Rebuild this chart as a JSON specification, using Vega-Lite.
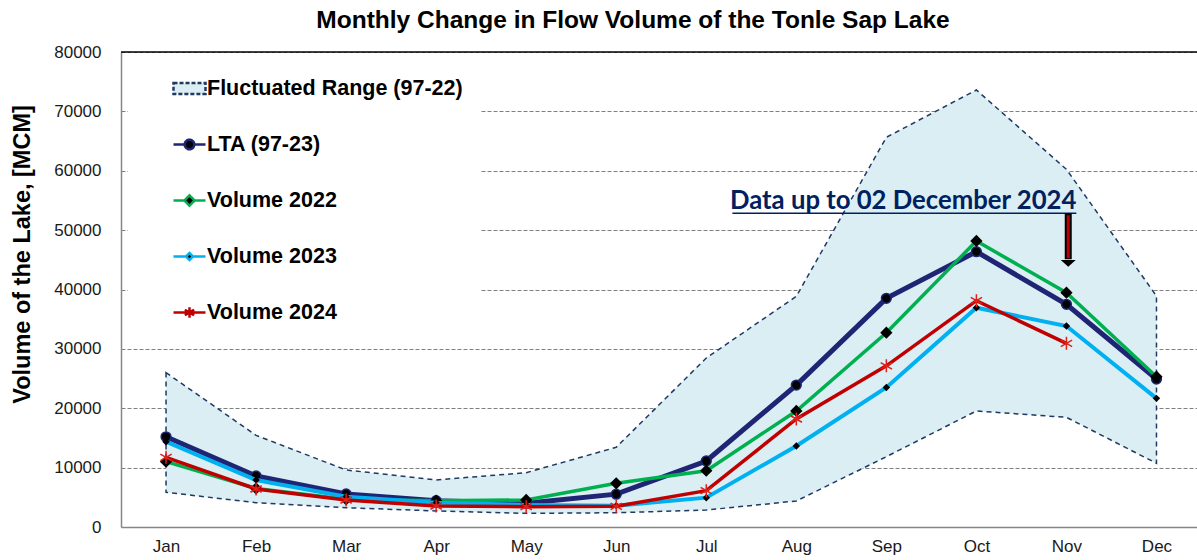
{
  "$schema": "https://vega.github.io/schema/vega-lite/v6.json",
  "autosize": "none",
  "width": 1076,
  "height": 475,
  "padding": {"left": 121, "top": 52, "right": 0, "bottom": 33},
  "background": "white",
  "title": {
    "text": "Monthly Change in Flow Volume of the Tonle Sap Lake",
    "font": "Liberation Sans",
    "fontSize": 24.5,
    "fontWeight": "bold",
    "color": "black",
    "anchor": "middle",
    "frame": "group",
    "dx": -26,
    "offset": 10
  },
  "datasets": {
    "range": [
      {"month": 1, "min": 5840, "max": 26000},
      {"month": 2, "min": 4100, "max": 15440},
      {"month": 3, "min": 3250, "max": 9600},
      {"month": 4, "min": 2700, "max": 7920},
      {"month": 5, "min": 2300, "max": 9150},
      {"month": 6, "min": 2400, "max": 13420},
      {"month": 7, "min": 2860, "max": 28460},
      {"month": 8, "min": 4380, "max": 38850},
      {"month": 9, "min": 11840, "max": 65630},
      {"month": 10, "min": 19540, "max": 73600},
      {"month": 11, "min": 18470, "max": 60240},
      {"month": 12, "min": 10730, "max": 38900}
    ],
    "series": [
      {"series": "LTA (97-23)", "month": 1, "value": 15200},
      {"series": "LTA (97-23)", "month": 2, "value": 8590},
      {"series": "LTA (97-23)", "month": 3, "value": 5560},
      {"series": "LTA (97-23)", "month": 4, "value": 4430},
      {"series": "LTA (97-23)", "month": 5, "value": 4000},
      {"series": "LTA (97-23)", "month": 6, "value": 5530},
      {"series": "LTA (97-23)", "month": 7, "value": 11120},
      {"series": "LTA (97-23)", "month": 8, "value": 23900},
      {"series": "LTA (97-23)", "month": 9, "value": 38510},
      {"series": "LTA (97-23)", "month": 10, "value": 46370},
      {"series": "LTA (97-23)", "month": 11, "value": 37500},
      {"series": "LTA (97-23)", "month": 12, "value": 24920},
      {"series": "Volume 2022", "month": 1, "value": 11000},
      {"series": "Volume 2022", "month": 2, "value": 6500},
      {"series": "Volume 2022", "month": 3, "value": 4660},
      {"series": "Volume 2022", "month": 4, "value": 4430},
      {"series": "Volume 2022", "month": 5, "value": 4550},
      {"series": "Volume 2022", "month": 6, "value": 7360},
      {"series": "Volume 2022", "month": 7, "value": 9480},
      {"series": "Volume 2022", "month": 8, "value": 19540},
      {"series": "Volume 2022", "month": 9, "value": 32720},
      {"series": "Volume 2022", "month": 10, "value": 48170},
      {"series": "Volume 2022", "month": 11, "value": 39460},
      {"series": "Volume 2022", "month": 12, "value": 25310},
      {"series": "Volume 2023", "month": 1, "value": 14370},
      {"series": "Volume 2023", "month": 2, "value": 7920},
      {"series": "Volume 2023", "month": 3, "value": 5100},
      {"series": "Volume 2023", "month": 4, "value": 4100},
      {"series": "Volume 2023", "month": 5, "value": 3700},
      {"series": "Volume 2023", "month": 6, "value": 3600},
      {"series": "Volume 2023", "month": 7, "value": 4940},
      {"series": "Volume 2023", "month": 8, "value": 13640},
      {"series": "Volume 2023", "month": 9, "value": 23500},
      {"series": "Volume 2023", "month": 10, "value": 36940},
      {"series": "Volume 2023", "month": 11, "value": 33850},
      {"series": "Volume 2023", "month": 12, "value": 21670},
      {"series": "Volume 2024", "month": 1, "value": 11740},
      {"series": "Volume 2024", "month": 2, "value": 6400},
      {"series": "Volume 2024", "month": 3, "value": 4550},
      {"series": "Volume 2024", "month": 4, "value": 3540},
      {"series": "Volume 2024", "month": 5, "value": 3420},
      {"series": "Volume 2024", "month": 6, "value": 3480},
      {"series": "Volume 2024", "month": 7, "value": 6120},
      {"series": "Volume 2024", "month": 8, "value": 18190},
      {"series": "Volume 2024", "month": 9, "value": 27150},
      {"series": "Volume 2024", "month": 10, "value": 38120},
      {"series": "Volume 2024", "month": 11, "value": 30930}
    ]
  },
  "layer": [
    {
      "data": {"name": "range"},
      "mark": {"type": "area", "fill": "#DAEEF3", "stroke": "#1F3864", "strokeWidth": 1.5, "strokeDash": [5, 4]},
      "encoding": {
        "x": {
          "field": "month", "type": "quantitative",
          "scale": {"domain": [0.5, 12.45], "nice": false, "zero": false},
          "axis": {
            "title": null,
            "values": [1, 2, 3, 4, 5, 6, 7, 8, 9, 10, 11, 12],
            "labelExpr": "['Jan','Feb','Mar','Apr','May','Jun','Jul','Aug','Sep','Oct','Nov','Dec'][datum.value - 1]",
            "grid": false,
            "ticks": false,
            "labelFont": "Liberation Sans",
            "labelFontSize": 17,
            "labelColor": "#1a1a1a",
            "labelPadding": 11,
            "domainColor": "#868686",
            "domainWidth": 1.5
          }
        },
        "y": {
          "field": "max", "type": "quantitative",
          "scale": {"domain": [0, 80000], "nice": false},
          "axis": {
            "title": "Volume of the Lake, [MCM]",
            "values": [0, 10000, 20000, 30000, 40000, 50000, 60000, 70000, 80000],
            "format": "d",
            "ticks": false,
            "labelFont": "Liberation Sans",
            "labelFontSize": 17,
            "labelColor": "#1a1a1a",
            "labelPadding": 20,
            "domainColor": "#868686",
            "domainWidth": 1.5,
            "grid": true,
            "gridColor": "#808080",
            "gridDash": [4, 2],
            "gridWidth": 1,
            "titleFont": "Liberation Sans",
            "titleFontSize": 23.5,
            "titleFontWeight": "bold",
            "titleColor": "black",
            "titlePadding": 19,
            "titleY": 202
          }
        },
        "y2": {"field": "min"}
      }
    },
    {
      "data": {"values": [{}]},
      "mark": {"type": "rule", "color": "black", "strokeWidth": 1.5},
      "encoding": {"y": {"datum": 80000}}
    },
    {
      "data": {"name": "series"},
      "transform": [{"filter": "datum.series === 'LTA (97-23)'"}],
      "layer": [
        {"mark": {"type": "line", "color": "#1F2574", "strokeWidth": 5}, "encoding": {"x": {"field": "month", "type": "quantitative"}, "y": {"field": "value", "type": "quantitative"}}},
        {"mark": {"type": "point", "shape": "circle", "filled": true, "fill": "black", "stroke": "#1F2574", "strokeWidth": 1.5, "size": 95, "opacity": 1}, "encoding": {"x": {"field": "month", "type": "quantitative"}, "y": {"field": "value", "type": "quantitative"}}}
      ]
    },
    {
      "data": {"name": "series"},
      "transform": [{"filter": "datum.series === 'Volume 2022'"}],
      "layer": [
        {"mark": {"type": "line", "color": "#00B050", "strokeWidth": 3.5}, "encoding": {"x": {"field": "month", "type": "quantitative"}, "y": {"field": "value", "type": "quantitative"}}},
        {"mark": {"type": "point", "shape": "diamond", "filled": true, "fill": "black", "strokeWidth": 0, "size": 150, "opacity": 1}, "encoding": {"x": {"field": "month", "type": "quantitative"}, "y": {"field": "value", "type": "quantitative"}}}
      ]
    },
    {
      "data": {"name": "series"},
      "transform": [{"filter": "datum.series === 'Volume 2023'"}],
      "layer": [
        {"mark": {"type": "line", "color": "#00B0F0", "strokeWidth": 4}, "encoding": {"x": {"field": "month", "type": "quantitative"}, "y": {"field": "value", "type": "quantitative"}}},
        {"mark": {"type": "point", "shape": "diamond", "filled": true, "fill": "black", "strokeWidth": 0, "size": 55, "opacity": 1}, "encoding": {"x": {"field": "month", "type": "quantitative"}, "y": {"field": "value", "type": "quantitative"}}}
      ]
    },
    {
      "data": {"name": "series"},
      "transform": [{"filter": "datum.series === 'Volume 2024'"}],
      "layer": [
        {"mark": {"type": "line", "color": "#C00000", "strokeWidth": 3.5}, "encoding": {"x": {"field": "month", "type": "quantitative"}, "y": {"field": "value", "type": "quantitative"}}},
        {"mark": {"type": "point", "shape": "M0,-1V1M-0.87,-0.5L0.87,0.5M-0.87,0.5L0.87,-0.5", "filled": false, "stroke": "#E0201A", "strokeWidth": 1.5, "size": 169, "opacity": 1}, "encoding": {"x": {"field": "month", "type": "quantitative"}, "y": {"field": "value", "type": "quantitative"}}}
      ]
    },
    {
      "data": {"values": [{}]},
      "mark": {"type": "text", "text": "Data up to 02 December 2024", "font": "Lato", "fontSize": 25.7, "fontWeight": "bold", "color": "#002060", "align": "right", "baseline": "alphabetic"},
      "encoding": {"x": {"datum": 11.11}, "y": {"datum": 53500}}
    },
    {
      "data": {"values": [{}]},
      "mark": {"type": "rule", "color": "#002060", "strokeWidth": 1.5},
      "encoding": {"x": {"datum": 7.29}, "x2": {"datum": 11.11}, "y": {"datum": 52830}}
    },
    {
      "data": {"values": [{}]},
      "mark": {"type": "rule", "color": "black", "strokeWidth": 7},
      "encoding": {"x": {"datum": 11.02}, "y": {"datum": 52830}, "y2": {"datum": 45100}}
    },
    {
      "data": {"values": [{}]},
      "mark": {"type": "rule", "color": "#C00000", "strokeWidth": 3},
      "encoding": {"x": {"datum": 11.02}, "y": {"datum": 52500}, "y2": {"datum": 45300}}
    },
    {
      "data": {"values": [{}]},
      "mark": {"type": "point", "shape": "M-1,-0.45L1,-0.45L0,0.45Z", "filled": true, "fill": "black", "strokeWidth": 0, "size": 225, "opacity": 1},
      "encoding": {"x": {"datum": 11.02}, "y": {"datum": 44400}}
    },
    {
      "data": {"values": []},
      "mark": {"type": "point", "filled": true, "size": 1024, "opacity": 1},
      "encoding": {
        "fill": {
          "field": "series", "type": "nominal",
          "scale": {"domain": ["Fluctuated Range (97-22)", "LTA (97-23)", "Volume 2022", "Volume 2023", "Volume 2024"], "range": ["#DAEEF3", "black", "black", "black", "transparent"]},
          "legend": {"title": null, "orient": "none", "legendX": 7, "legendY": 2, "direction": "vertical", "fillColor": "white", "padding": 17, "rowPadding": 28, "symbolSize": 1024, "symbolStrokeWidth": 2.5, "symbolOffset": 27, "labelOffset": 0, "labelFont": "Liberation Sans", "labelFontWeight": "bold", "labelFontSize": 21.5, "labelColor": "black", "labelLimit": 400, "labelExpr": "datum.label + '\u00a0\u00a0\u00a0\u00a0'"}
        },
        "stroke": {
          "field": "series", "type": "nominal",
          "scale": {"domain": ["Fluctuated Range (97-22)", "LTA (97-23)", "Volume 2022", "Volume 2023", "Volume 2024"], "range": ["#1F3864", "#1F2574", "#00B050", "#00B0F0", "#C00000"]},
          "legend": {"title": null, "orient": "none", "legendX": 7, "legendY": 2, "direction": "vertical", "fillColor": "white", "padding": 17, "rowPadding": 28, "symbolSize": 1024, "symbolStrokeWidth": 2.5, "symbolOffset": 27, "labelOffset": 0, "labelFont": "Liberation Sans", "labelFontWeight": "bold", "labelFontSize": 21.5, "labelColor": "black", "labelLimit": 400, "labelExpr": "datum.label + '\u00a0\u00a0\u00a0\u00a0'"}
        },
        "shape": {
          "field": "series", "type": "nominal",
          "scale": {"domain": ["Fluctuated Range (97-22)", "LTA (97-23)", "Volume 2022", "Volume 2023", "Volume 2024"], "range": [
            "M-1,-0.34H1V0.34H-1Z",
            "M-1,0H-0.3M0.3,0H1M0.3,0A0.3,0.3 0 1,1 -0.3,0A0.3,0.3 0 1,1 0.3,0Z",
            "M-1,0H-0.32M0.32,0H1M0,-0.32L0.32,0L0,0.32L-0.32,0Z",
            "M-1,0H-0.22M0.22,0H1M0,-0.22L0.22,0L0,0.22L-0.22,0Z",
            "M-1,0H1M0,-0.33V0.33M-0.29,-0.17L0.29,0.17M-0.29,0.17L0.29,-0.17"
          ]},
          "legend": {"title": null, "orient": "none", "legendX": 7, "legendY": 2, "direction": "vertical", "fillColor": "white", "padding": 17, "rowPadding": 28, "symbolSize": 1024, "symbolStrokeWidth": 2.5, "symbolOffset": 27, "labelOffset": 0, "labelFont": "Liberation Sans", "labelFontWeight": "bold", "labelFontSize": 21.5, "labelColor": "black", "labelLimit": 400, "labelExpr": "datum.label + '\u00a0\u00a0\u00a0\u00a0'"}
        },
        "strokeDash": {
          "field": "series", "type": "nominal",
          "scale": {"domain": ["Fluctuated Range (97-22)", "LTA (97-23)", "Volume 2022", "Volume 2023", "Volume 2024"], "range": [[4, 2], [1, 0], [1, 0], [1, 0], [1, 0]]},
          "legend": {"title": null, "orient": "none", "legendX": 7, "legendY": 2, "direction": "vertical", "fillColor": "white", "padding": 17, "rowPadding": 28, "symbolSize": 1024, "symbolStrokeWidth": 2.5, "symbolOffset": 27, "labelOffset": 0, "labelFont": "Liberation Sans", "labelFontWeight": "bold", "labelFontSize": 21.5, "labelColor": "black", "labelLimit": 400, "labelExpr": "datum.label + '\u00a0\u00a0\u00a0\u00a0'"}
        }
      }
    }
  ],
  "config": {
    "view": {"stroke": null},
    "font": "Liberation Sans",
    "legend": {"fillColor": "white"}
  }
}
